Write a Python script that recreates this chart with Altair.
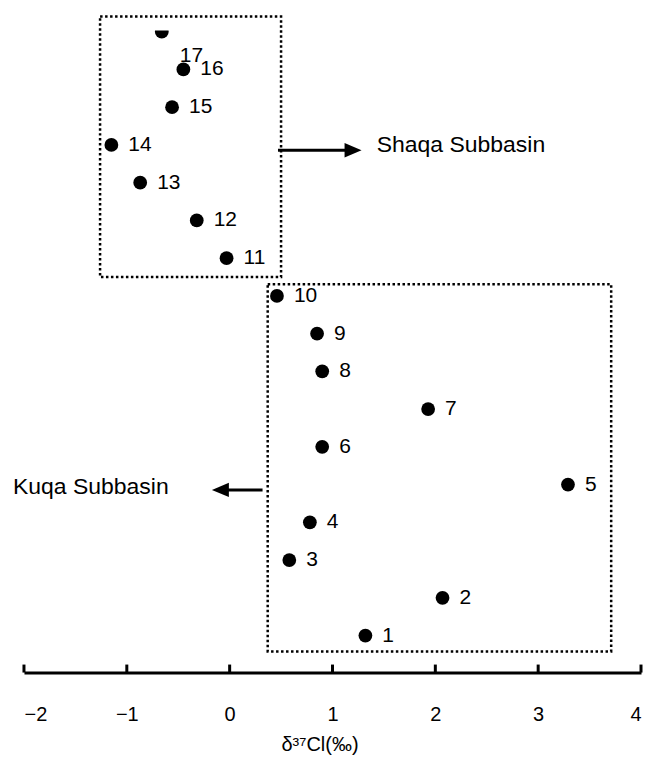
import altair as alt
import pandas as pd

# ---- data ----
sample_ids = list(range(1, 18))
delta37cl = [1.32, 2.07, 0.58, 0.78, 3.29, 0.90, 1.93, 0.90, 0.85, 0.46,
             -0.03, -0.32, -0.87, -1.15, -0.56, -0.45, -0.66]
x_ticks = [-2, -1, 0, 1, 2, 3, 4]

box_names = ["Shaqa", "Kuqa"]
box_x_left = [-1.26, 0.37]
box_x_right = [0.50, 3.71]
box_y_bottom = [10.50, 0.58]
box_y_top = [17.40, 10.31]

subbasin_labels = ["Shaqa Subbasin", "Kuqa Subbasin"]
arrow_start_x = [0.47, 0.32]
arrow_head_x = [1.20, -0.09]
arrow_y = [13.86, 4.86]
arrow_shapes = ["M-1,-0.85L1,0L-1,0.85Z", "M1,-0.85L-1,0L1,0.85Z"]
label_x = [1.43, -2.107]
label_y = [13.99, 4.94]

FONT = "Liberation Sans"
W, H = 618, 643

pts = pd.DataFrame({"id": sample_ids, "d37": delta37cl,
                    "lab": [str(i) for i in sample_ids]})
boxes = pd.DataFrame({"name": box_names, "x1": box_x_left, "x2": box_x_right,
                      "y1": box_y_bottom, "y2": box_y_top})
arrows = pd.DataFrame({"name": subbasin_labels, "xs": arrow_start_x,
                       "xh": arrow_head_x, "ay": arrow_y, "shape": arrow_shapes,
                       "lx": label_x, "ly": label_y})
ticks = pd.DataFrame({"t": x_ticks})

xs = alt.Scale(domain=[-2, 4], nice=False, zero=False)
ys = alt.Scale(domain=[0.02, 17.03], nice=False, zero=False)

points = alt.Chart(pts).mark_circle(size=190, color="black", opacity=1, clip=True).encode(
    x=alt.X("d37:Q", scale=xs,
            axis=alt.Axis(values=x_ticks, ticks=False, tickSize=0, grid=False,
                          domainColor="black", domainWidth=3,
                          labelFont=FONT, labelFontSize=20, labelColor="black",
                          labelPadding=32, title="δ³⁷Cl(‰)", titleFont=FONT,
                          titleFontSize=20, titleFontWeight="normal",
                          titleColor="black", titlePadding=10, titleX=296,
                          titleAlign="center")),
    y=alt.Y("id:Q", scale=ys, axis=None),
)

labels = alt.Chart(pts).transform_filter("datum.id != 17").mark_text(
    align="left", baseline="middle", dx=17, font=FONT, fontSize=21, color="black"
).encode(x=alt.X("d37:Q", scale=xs, axis=None), y=alt.Y("id:Q", scale=ys, axis=None), text="lab:N")

label17 = alt.Chart(pts).transform_filter("datum.id == 17").mark_text(
    align="left", baseline="middle", dx=18, dy=24, font=FONT, fontSize=21, color="black"
).encode(x=alt.X("d37:Q", scale=xs, axis=None), y=alt.Y("id:Q", scale=ys, axis=None), text="lab:N")

box_layer = alt.Chart(boxes).mark_rect(
    fill=None, stroke="black", strokeWidth=2.5, strokeDash=[2.5, 2.5], clip=False
).encode(x=alt.X("x1:Q", scale=xs, axis=None), x2="x2:Q",
         y=alt.Y("y1:Q", scale=ys, axis=None), y2="y2:Q")

arrow_lines = alt.Chart(arrows).mark_rule(color="black", strokeWidth=3).encode(
    x=alt.X("xs:Q", scale=xs, axis=None), x2="xh:Q",
    y=alt.Y("ay:Q", scale=ys, axis=None))

arrow_heads = alt.Chart(arrows).mark_point(filled=True, color="black", opacity=1, size=289).encode(
    x=alt.X("xh:Q", scale=xs, axis=None), y=alt.Y("ay:Q", scale=ys, axis=None),
    shape=alt.Shape("shape:N", scale=None))

sub_text = alt.Chart(arrows).mark_text(
    align="left", baseline="middle", font=FONT, fontSize=23, color="black"
).encode(x=alt.X("lx:Q", scale=xs, axis=None), y=alt.Y("ly:Q", scale=ys, axis=None), text="name:N")

tick_marks = alt.Chart(ticks).mark_rule(color="black", strokeWidth=3).encode(
    x=alt.X("t:Q", scale=xs, axis=None), y=alt.value(H - 8), y2=alt.value(H))

chart = alt.layer(points, box_layer, labels, label17, arrow_lines, arrow_heads,
                  sub_text, tick_marks).resolve_axis(
    x="independent", y="independent"
).properties(
    width=W, height=H,
    autosize=alt.AutoSizeParams(type="none"),
    padding={"left": 16, "top": 22, "right": 5, "bottom": 90},
).configure_view(stroke=None)

chart.save("out.html", embed_options={"renderer": "svg", "actions": False})
